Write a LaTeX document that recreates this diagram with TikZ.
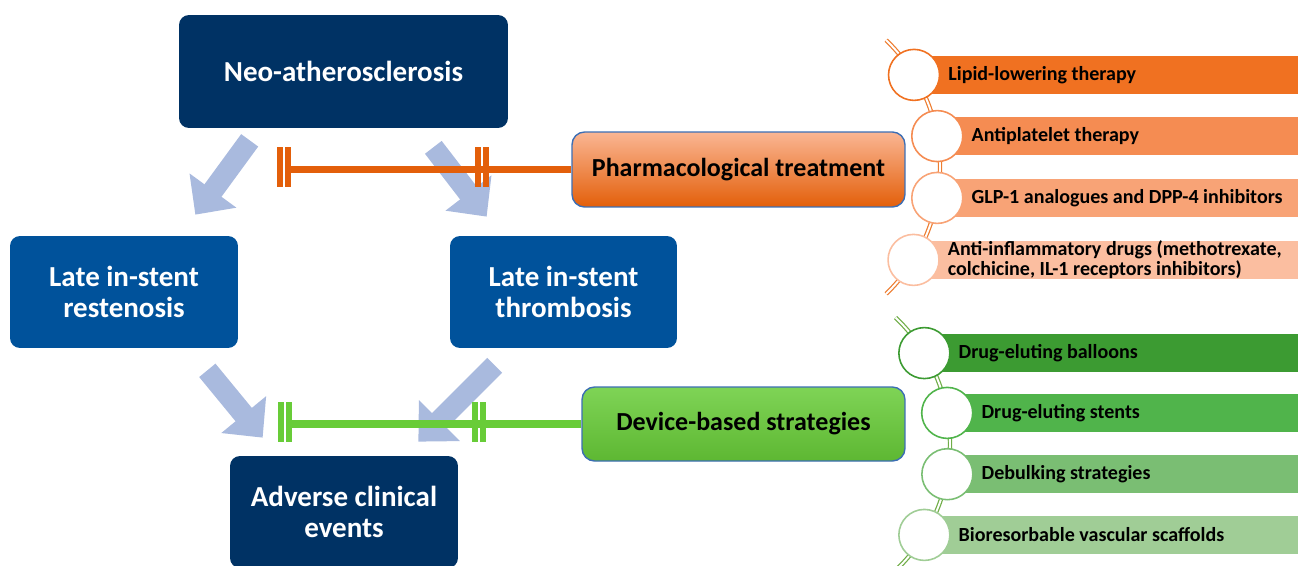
\documentclass[tikz,border=0pt]{standalone}
\usepackage{fontspec}
\setmainfont{Carlito}
\usetikzlibrary{arrows.meta}
\definecolor{navy}{RGB}{0,50,100}
\definecolor{midblue}{RGB}{0,82,155}
\definecolor{paleblue}{RGB}{169,186,222}
\definecolor{edgeblue}{RGB}{60,110,180}
\definecolor{orline}{RGB}{227,95,10}
\definecolor{grline}{RGB}{104,204,56}
\definecolor{orarc}{RGB}{237,125,49}
\definecolor{grarc}{RGB}{112,173,71}
\definecolor{or1}{RGB}{240,113,33}
\definecolor{or2}{RGB}{245,140,82}
\definecolor{or3}{RGB}{248,163,118}
\definecolor{or4}{RGB}{251,190,160}
\definecolor{gr1}{RGB}{60,155,50}
\definecolor{gr2}{RGB}{80,180,75}
\definecolor{gr3}{RGB}{122,190,115}
\definecolor{gr4}{RGB}{160,205,150}
\tikzset{
  box/.style={rounded corners=0.2cm,text=white,align=center,inner sep=0pt,
    font=\bfseries\fontsize{16.5}{17.6}\selectfont},
  sidebox/.style={rounded corners=0.25cm,draw=edgeblue,line width=0.8pt,inner sep=0pt,
    font=\bfseries\fontsize{14.8}{17}\selectfont},
  blockarrow/.style={paleblue,line width=12pt,-{Triangle[width=32pt,length=17pt]}},
  bar/.style={anchor=west,minimum height=0.77cm,minimum width=8cm,inner sep=0pt},
  bartext/.style={anchor=west,inner sep=0pt,align=flush left,
    font=\bfseries\fontsize{11.4}{11.4}\selectfont},
  dot/.style={circle,fill=white,line width=0.9pt,minimum size=1.02cm,inner sep=0pt},
  arcline/.style={line width=0.7pt,double=white,double distance=1.1pt}
}
\begin{document}
\begin{tikzpicture}[x=0.02cm,y=-0.02cm]
\useasboundingbox (0,0) rectangle (1298,565);
% main boxes
\node[box,fill=navy,minimum width=6.58cm,minimum height=2.26cm] (neo) at (343.5,71.5) {Neo-atherosclerosis};
\node[box,fill=midblue,minimum width=4.56cm,minimum height=2.24cm] (restenosis) at (124,292) {Late in-stent\\restenosis};
\node[box,fill=midblue,minimum width=4.54cm,minimum height=2.24cm] (thrombosis) at (563.5,292) {Late in-stent\\thrombosis};
\node[box,fill=navy,minimum width=4.56cm,minimum height=2.24cm] (adverse) at (344,512) {Adverse clinical\\events};
\node[sidebox,top color=or4!70!or3,bottom color=orline,minimum width=6.66cm,minimum height=1.5cm] (pharma) at (738.5,169.5) {Pharmacological treatment};
\node[sidebox,top color=grline!85!white,bottom color=grline!90!black,minimum width=6.46cm,minimum height=1.48cm] (device) at (743.5,424) {Device-based strategies};
% block arrows
\draw[blockarrow] ([shift={(71,12)}]neo.south west) -- ([shift={(-43,-21)}]restenosis.north east);
\draw[blockarrow] ([shift={(-75,19)}]neo.south east) -- ([shift={(37,-19)}]thrombosis.north west);
\draw[blockarrow] ([shift={(-31,22)}]restenosis.south east) -- ([shift={(33,-18)}]adverse.north west);
\draw[blockarrow] ([shift={(45,17)}]thrombosis.south west) -- ([shift={(-40,-14)}]adverse.north east);
% inhibition lines
\draw[orline,line width=4pt] (pharma.west) -- ++(-282,0);
\foreach \x in {277,475} {
  \fill[orline] (\x,147) rectangle ++(6,40);
  \fill[orline] (\x+8,147) rectangle ++(6,40);
}
\draw[grline,line width=4pt] (device.west) -- ++(-289,0);
\foreach \x in {278,472} {
  \fill[grline] (\x,402) rectangle ++(6,40);
  \fill[grline] (\x+8,402) rectangle ++(6,40);
}
% pharmacological list
\begin{scope}[shift={(763.7,167)}]
\draw[arcline,orarc] (-46:176.3) arc[start angle=-46,end angle=46,radius=176.3];
\foreach \i/\a/\c/\t in {1/-31.5/or1/Lipid-lowering therapy,2/-10.1/or2/Antiplatelet therapy,
    3/10.1/or3/GLP-1 analogues and DPP-4 inhibitors,
    4/31.8/or4/{Anti-inflammatory drugs (methotrexate,\\colchicine, IL-1 receptors inhibitors)}} {
  \node[bar,fill=\c] (pb\i) at (\a:176.3) {};
  \node[dot,draw=\c] (pc\i) at (\a:176.3) {};
  \node[bartext] at ([xshift=0.68cm]pc\i.center) {\t};
}
\end{scope}
% device list
\begin{scope}[shift={(776,444)}]
\draw[arcline,grarc] (-46.6:174) arc[start angle=-46.6,end angle=55,radius=174];
\foreach \i/\a/\c/\t in {1/-31.5/gr1/Drug-eluting balloons,2/-10.3/gr2/Drug-eluting stents,
    3/10/gr3/Debulking strategies,4/31.5/gr4/Bioresorbable vascular scaffolds} {
  \node[bar,fill=\c] (db\i) at (\a:174) {};
  \node[dot,draw=\c] (dc\i) at (\a:174) {};
  \node[bartext] at ([xshift=0.68cm]dc\i.center) {\t};
}
\end{scope}
\end{tikzpicture}
\end{document}
